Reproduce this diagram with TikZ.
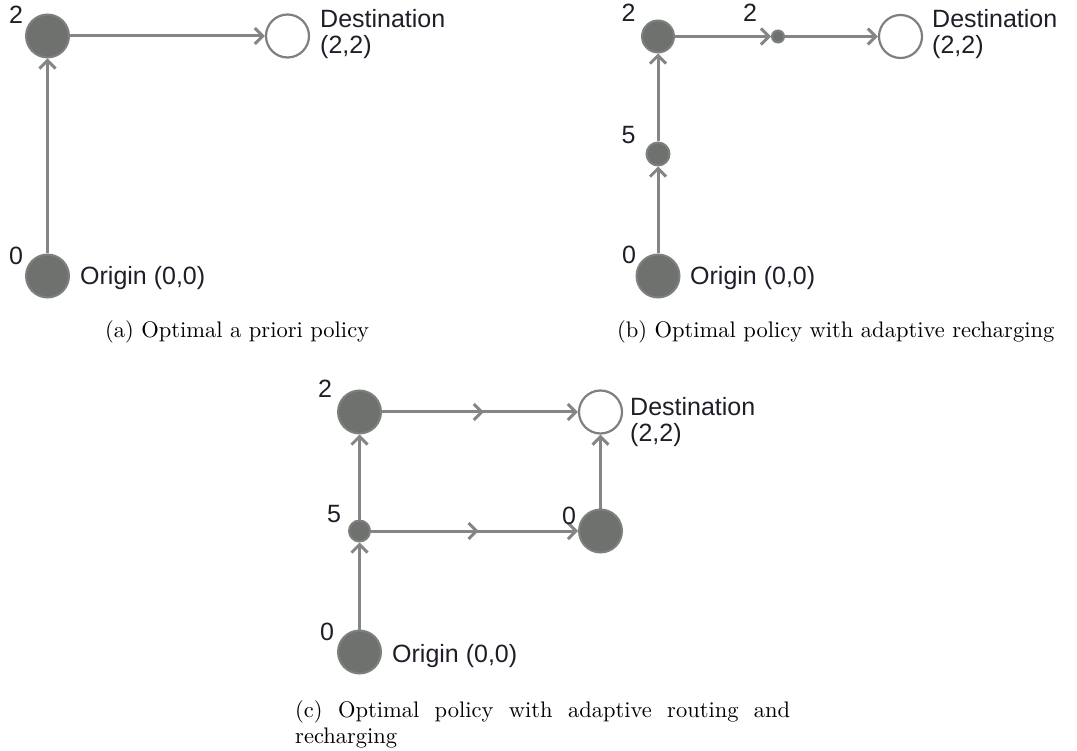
\documentclass[tikz,border=0pt]{standalone}
\usepackage{fontspec}
\newfontfamily\lsans{Liberation Sans}
\newfontfamily\capfont{lmroman10-regular}[Extension=.otf]
\usetikzlibrary{arrows.meta,decorations.markings}
\definecolor{nodefill}{HTML}{6E716E}
\definecolor{nodeline}{HTML}{7D817D}
\definecolor{edgecol}{HTML}{858585}
\definecolor{txt}{HTML}{1E1E28}
\begin{document}
\begin{tikzpicture}[x=1pt,y=-1pt,
  fullnode/.style={circle,inner sep=0pt,fill=nodefill,draw=nodeline,line width=2pt},
  bignode/.style={fullnode,minimum size=43pt},
  smallnode/.style={fullnode,minimum size=#1},
  destnode/.style={circle,inner sep=0pt,fill=white,draw=nodeline,line width=2.2pt,minimum size=43pt},
  conn/.style={color=edgecol,line width=3pt,-{Straight Barb[length=8pt,width=16pt]}},
  midarrow/.style={postaction={decorate},decoration={markings,mark=at position 0.52 with {\arrow{Straight Barb[length=8pt,width=16pt]}}}},
  lbl/.style={font=\lsans\fontsize{25}{30}\selectfont,text=txt,inner sep=0pt},
  captxt/.style={font=\capfont\fontsize{22.5}{26}\selectfont,inner sep=0pt,text=black}]
\useasboundingbox (0,0) rectangle (1077,751);
% ---------- (a)
\node[bignode] (a0) at (47.5,276) {};
\node[bignode] (a2) at (47.5,36) {};
\node[destnode] (ad) at (287.5,36) {};
\draw[conn] (a0) -- (a2);
\draw[conn] (a2) -- (ad);
\node[lbl] (a2l) at (16,15) {2};
\node[lbl] (a0l) at (16,256) {0};
\node[lbl,anchor=base west] (adl) at (320,28) {Destination};
\node[lbl,anchor=base west] (adc) at (320,54) {(2,2)};
\node[lbl,anchor=base west] (aol) at (80,285) {Origin (0,0)};
\node[captxt,anchor=base west] (capa) at (105,338) {(a) Optimal a priori policy};
% ---------- (b)
\node[bignode] (b0) at (658,276) {};
\node[smallnode=23pt] (b5) at (658,154) {};
\node[smallnode=32pt] (b2) at (658,36.5) {};
\node[smallnode=12pt] (bt) at (778,36.5) {};
\node[destnode] (bd) at (900.5,36.5) {};
\draw[conn] (b0) -- (b5);
\draw[conn] (b5) -- (b2);
\draw[conn] (b2) -- (bt);
\draw[conn] (bt) -- (bd);
\node[lbl] (b2l) at (628.5,13) {2};
\node[lbl] (btl) at (750,13) {2};
\node[lbl] (b5l) at (628.5,135) {5};
\node[lbl] (b0l) at (629,255) {0};
\node[lbl,anchor=base west] (bdl) at (932,28) {Destination};
\node[lbl,anchor=base west] (bdc) at (932,54) {(2,2)};
\node[lbl,anchor=base west] (bol) at (690,285) {Origin (0,0)};
\node[captxt,anchor=base west] (capb) at (617,338) {(b) Optimal policy with adaptive recharging};
% ---------- (c)
\node[bignode] (c0) at (359.5,652) {};
\node[smallnode=21pt] (c5) at (359.5,531) {};
\node[bignode] (c2) at (359.5,412) {};
\node[bignode] (cr) at (600.5,531) {};
\node[destnode] (cd) at (600.5,412) {};
\draw[conn] (c0) -- (c5);
\draw[conn] (c5) -- (c2);
\draw[conn,midarrow] (c2) -- (cd);
\draw[conn,midarrow] (c5) -- (cr);
\draw[conn] (cr) -- (cd);
\node[lbl] (c2l) at (325,389) {2};
\node[lbl] (c5l) at (334,514) {5};
\node[lbl] (crl) at (569,516) {0};
\node[lbl] (c0l) at (327,632) {0};
\node[lbl,anchor=base west] (cdl) at (630,415) {Destination};
\node[lbl,anchor=base west] (cdc) at (630,441) {(2,2)};
\node[lbl,anchor=base west] (col) at (392,662) {Origin (0,0)};
\node[captxt,anchor=base west] (capc1) at (295,717) {\makebox[495pt][s]{(c) Optimal policy with adaptive routing and}};
\node[captxt,anchor=base west] (capc2) at (295,743) {recharging};
\end{tikzpicture}
\end{document}
